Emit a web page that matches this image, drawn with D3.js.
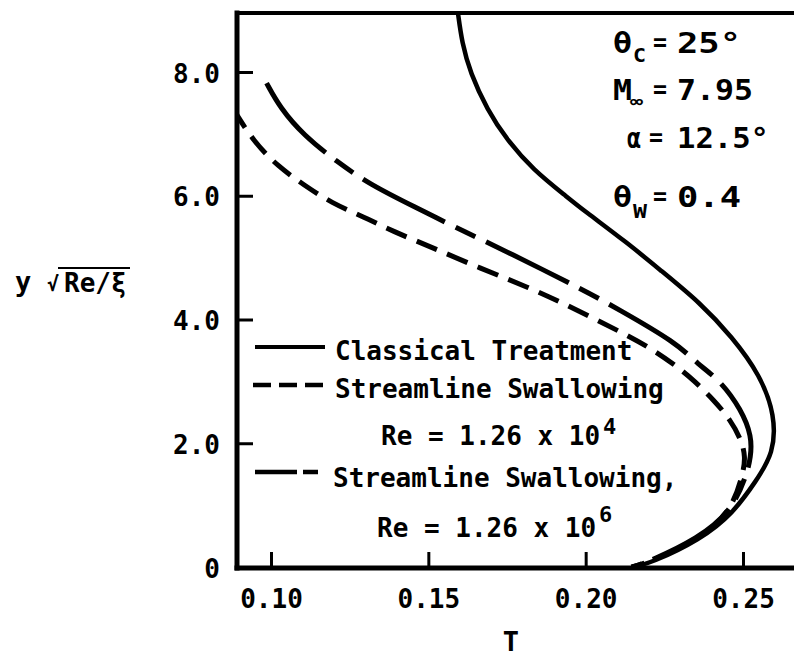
<!DOCTYPE html>
<html><head><meta charset="utf-8">
<script src="https://cdn.jsdelivr.net/npm/d3@7"></script>
<style>
body{margin:0;background:#fff}
svg{display:block}
text{font-family:'DejaVu Sans Mono',monospace;font-weight:bold;fill:#000}
</style>
</head><body>
<svg id="c" width="794" height="656"></svg>
<script>
// ---- data ----
const xTicks = [0.10, 0.15, 0.20, 0.25];
const yTicks = [0, 2, 4, 6, 8];

// Classical treatment (solid)
const classicalT = [0.1590, 0.1594, 0.1607, 0.1633, 0.1687, 0.1750, 0.1833, 0.1941, 0.1992, 0.2132, 0.2237, 0.2364, 0.2465, 0.2555, 0.2602, 0.2598, 0.2540, 0.2469, 0.2364, 0.2205, 0.2151];
const classicalY = [9.10, 8.96, 8.47, 7.99, 7.39, 6.90, 6.42, 5.98, 5.77, 5.24, 4.80, 4.27, 3.72, 3.10, 2.45, 1.84, 1.38, 0.87, 0.44, 0.06, 0.00];

// Streamline swallowing, Re = 1.26e4 (short dashes)
const ss4T = [0.0880, 0.0944, 0.1023, 0.1103, 0.1193, 0.1294, 0.1389, 0.1505, 0.1664, 0.1823, 0.1929, 0.2120, 0.2215, 0.2290, 0.2343, 0.2407, 0.2460, 0.2495, 0.2508, 0.2500, 0.2460, 0.2355, 0.2195, 0.2145];
const ss4Y = [7.40, 6.88, 6.47, 6.18, 5.88, 5.66, 5.42, 5.18, 4.83, 4.51, 4.26, 3.78, 3.51, 3.24, 3.02, 2.70, 2.38, 2.05, 1.78, 1.50, 0.87, 0.44, 0.06, 0.00];

// Streamline swallowing, Re = 1.26e6 (long-short dashes)
const ss6T = [0.0986, 0.1029, 0.1103, 0.1209, 0.1315, 0.1452, 0.1622, 0.1749, 0.2003, 0.2099, 0.2290, 0.2353, 0.2427, 0.2495, 0.2528, 0.2525, 0.2510, 0.2462, 0.2358, 0.2198, 0.2148];
const ss6Y = [7.82, 7.42, 6.98, 6.55, 6.18, 5.83, 5.40, 5.10, 4.45, 4.18, 3.62, 3.29, 3.02, 2.54, 2.11, 1.78, 1.46, 0.90, 0.46, 0.08, 0.00];

const legendLabels = ["Classical Treatment", "Streamline Swallowing", "Re = 1.26 x 10", "Streamline Swallowing,", "Re = 1.26 x 10"];
const legendExps = ["4", "6"];

// ---- drawing ----
const svg = d3.select("#c");
const x = d3.scaleLinear().domain([0.10, 0.25]).range([271, 743]);
const y = d3.scaleLinear().domain([0, 8]).range([567, 72]);
const L = 237, R = 794, T = 13, B = 568;

svg.append("defs").append("clipPath").attr("id", "clip")
  .append("rect").attr("x", L + 2).attr("y", T + 1).attr("width", R - L).attr("height", B - T - 1);

const line = d3.line().x(d => x(d[0])).y(d => y(d[1])).curve(d3.curveBasis);
const zip = (a, b) => a.map((v, i) => [v, b[i]]);

const plot = svg.append("g").attr("clip-path", "url(#clip)");
plot.append("path").datum(zip(ss4T, ss4Y)).attr("d", line)
  .attr("fill", "none").attr("stroke", "#000").attr("stroke-width", 5).attr("stroke-dasharray", "22,11");
plot.append("path").datum(zip(ss6T, ss6Y)).attr("d", line)
  .attr("fill", "none").attr("stroke", "#000").attr("stroke-width", 5).attr("stroke-dasharray", "92,12,22,12");
plot.append("path").datum(zip(classicalT, classicalY)).attr("d", line)
  .attr("fill", "none").attr("stroke", "#000").attr("stroke-width", 4.5);

// frame
const frame = svg.append("g").attr("stroke", "#000").attr("stroke-linecap", "square");
frame.append("line").attr("x1", L).attr("x2", L).attr("y1", T).attr("y2", B).attr("stroke-width", 5);
frame.append("line").attr("x1", L).attr("x2", R).attr("y1", B).attr("y2", B).attr("stroke-width", 5);
frame.append("line").attr("x1", L).attr("x2", R).attr("y1", T).attr("y2", T).attr("stroke-width", 4);

// x axis
const gx = svg.append("g").attr("transform", `translate(0,${B})`)
  .call(d3.axisBottom(x).tickValues(xTicks).tickSize(-16).tickFormat(d3.format(".2f")));
gx.select(".domain").remove();
gx.selectAll(".tick line").attr("stroke", "#000").attr("stroke-width", 3);
gx.selectAll(".tick text").attr("y", 40).attr("dy", null).attr("font-size", 26).attr("font-family", null);

// y axis
const gy = svg.append("g").attr("transform", `translate(${L},0)`)
  .call(d3.axisLeft(y).tickValues(yTicks).tickSize(-16).tickFormat(d => d === 0 ? "0" : d.toFixed(1)));
gy.select(".domain").remove();
gy.selectAll(".tick line").attr("stroke", "#000").attr("stroke-width", 3)
  .attr("display", d => d === 0 ? "none" : null);
gy.selectAll(".tick text").attr("x", -17).attr("dy", 10).attr("font-size", 26).attr("font-family", null);

// axis titles
svg.append("text").attr("x", 511).attr("y", 651).attr("text-anchor", "middle").attr("font-size", 27).text("T");
svg.append("text").attr("x", 15).attr("y", 291).attr("font-size", 27).text("y");
svg.append("text").attr("x", 47).attr("y", 291).attr("font-size", 20).text("√");
svg.append("text").attr("x", 64).attr("y", 292).attr("font-size", 26).text("Re/ξ");
svg.append("line").attr("x1", 58).attr("x2", 130).attr("y1", 268).attr("y2", 268).attr("stroke", "#000").attr("stroke-width", 2);

// legend
const leg = svg.append("g");
leg.append("line").attr("x1", 255).attr("x2", 325).attr("y1", 347).attr("y2", 347).attr("stroke", "#000").attr("stroke-width", 4);
leg.append("line").attr("x1", 253).attr("x2", 325).attr("y1", 385).attr("y2", 385).attr("stroke", "#000").attr("stroke-width", 4.5).attr("stroke-dasharray", "18,8");
leg.append("line").attr("x1", 255).attr("x2", 318).attr("y1", 472).attr("y2", 472).attr("stroke", "#000").attr("stroke-width", 4.5).attr("stroke-dasharray", "42,6,15");
const legPos = [[335, 360], [335, 398], [381, 445], [333, 487], [377, 537]];
legendLabels.forEach((s, i) => {
  leg.append("text").attr("x", legPos[i][0]).attr("y", legPos[i][1]).attr("font-size", 26).text(s);
});
leg.append("text").attr("x", 603).attr("y", 434).attr("font-size", 22).text(legendExps[0]);
leg.append("text").attr("x", 599).attr("y", 522).attr("font-size", 22).text(legendExps[1]);

// parameter annotations
const ann = svg.append("g");
function t(xp, yp, s, fs, w) {
  const e = ann.append("text").attr("x", xp).attr("y", yp).attr("font-size", fs).text(s);
  if (w) e.attr("textLength", w).attr("lengthAdjust", "spacingAndGlyphs");
  return e;
}
t(613, 53, "θ", 28, 19); t(633, 62, "C", 20, 13); t(653, 51, "=", 24, 14); t(677, 53, "25°", 28, 64);
t(613, 100, "M", 28, 19); t(630, 107, "∞", 16, 13); t(653, 98, "=", 24, 14); t(677, 100, "7.95", 28, 76);
t(627, 148, "α", 28, 14); t(649, 146, "=", 24, 14); t(677, 148, "12.5°", 28, 92);
t(613, 207, "θ", 28, 19); t(633, 218, "W", 20, 14); t(653, 205, "=", 24, 14); t(677, 207, "0.4", 28, 64);
</script>
</body></html>
